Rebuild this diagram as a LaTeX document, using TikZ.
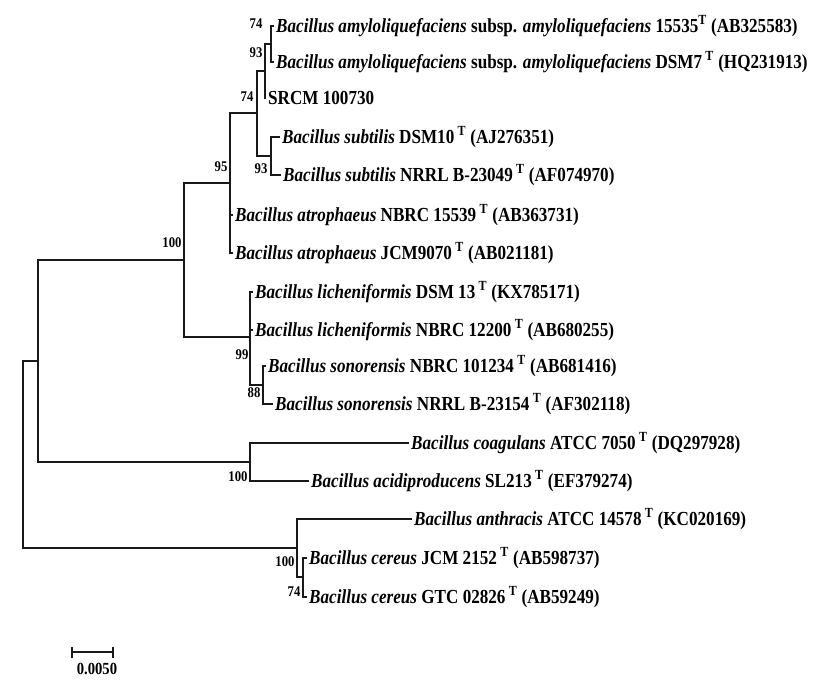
\documentclass[tikz,border=0pt]{standalone}
\usepackage{fontspec}
\setmainfont{Liberation Serif}[FakeStretch=0.86]
\usepackage{tikz}
\usetikzlibrary{positioning}
\definecolor{TreeInk}{RGB}{25,25,25}

\tikzset{
  branch/.style={draw=TreeInk, line width=1.2pt},
  thickbranch/.style={branch, line width=1.9pt},
  leaf/.style={anchor=west, inner xsep=2pt, inner ysep=0pt,
               text height=17pt, text depth=4pt,
               font=\fontsize{19.9}{22}\selectfont\bfseries},
  boot/.style={inner sep=0pt, font=\fontsize{14.8}{16}\selectfont\bfseries},
  scalelab/.style={inner sep=0pt, font=\fontsize{17}{19}\selectfont\bfseries}
}

\begin{document}
\begin{tikzpicture}[x=1pt, y=-1pt]
  \useasboundingbox (0,0) rectangle (827,685);

  % Internal nodes
  \coordinate (root) at (23,455);
  \coordinate (n9)  at (38,361);
  \coordinate (n6)  at (184,260);
  \coordinate (n5)  at (230,183);
  \coordinate (n3)  at (257,113);
  \coordinate (n2)  at (265,71);
  \coordinate (n1)  at (271,44);
  \coordinate (n4)  at (271,156);
  \coordinate (n7)  at (250,337);
  \coordinate (n8)  at (263,385);
  \coordinate (n10) at (250,462);
  \coordinate (n11) at (297,548);
  \coordinate (n12) at (303,577);

  % Inner branches
  \foreach \child/\parent/\br in {
    n9/root/branch, n11/root/thickbranch,
    n6/n9/branch, n10/n9/branch,
    n5/n6/thickbranch, n7/n6/thickbranch,
    n3/n5/branch, n2/n3/branch, n4/n3/branch, n1/n2/branch,
    n8/n7/branch, n12/n11/branch} {
    \draw[\br] (\parent) |- (\child);
  }

  % Taxa
  \foreach \name/\parent/\x/\y/\br/\txt in {
    am1/n1/274/26/branch/{\textit{Bacillus amyloliquefaciens} subsp. \textit{amyloliquefaciens} 15535\textsuperscript{T} (AB325583)},
    am2/n1/274/62/branch/{\textit{Bacillus amyloliquefaciens} subsp. \textit{amyloliquefaciens} DSM7\,\textsuperscript{T} (HQ231913)},
    srcm/n2/266/98/branch/{SRCM 100730},
    sub1/n4/280/137/branch/{\textit{Bacillus subtilis} DSM10\,\textsuperscript{T} (AJ276351)},
    sub2/n4/281/175/branch/{\textit{Bacillus subtilis} NRRL B-23049\,\textsuperscript{T} (AF074970)},
    atr1/n5/233/215/branch/{\textit{Bacillus atrophaeus} NBRC 15539\,\textsuperscript{T} (AB363731)},
    atr2/n5/233/253/branch/{\textit{Bacillus atrophaeus} JCM9070\,\textsuperscript{T} (AB021181)},
    lic1/n7/253/292/branch/{\textit{Bacillus licheniformis} DSM 13\,\textsuperscript{T} (KX785171)},
    lic2/n7/253/330/branch/{\textit{Bacillus licheniformis} NBRC 12200\,\textsuperscript{T} (AB680255)},
    son1/n8/266/366/branch/{\textit{Bacillus sonorensis} NBRC 101234\,\textsuperscript{T} (AB681416)},
    son2/n8/273/404/branch/{\textit{Bacillus sonorensis} NRRL B-23154\,\textsuperscript{T} (AF302118)},
    coa/n10/409/443/thickbranch/{\textit{Bacillus coagulans} ATCC 7050\,\textsuperscript{T} (DQ297928)},
    aci/n10/309/481/branch/{\textit{Bacillus acidiproducens} SL213\,\textsuperscript{T} (EF379274)},
    ant/n11/412/519/branch/{\textit{Bacillus anthracis} ATCC 14578\,\textsuperscript{T} (KC020169)},
    cer1/n12/307/558/branch/{\textit{Bacillus cereus} JCM 2152\,\textsuperscript{T} (AB598737)},
    cer2/n12/307/597/branch/{\textit{Bacillus cereus} GTC 02826\,\textsuperscript{T} (AB59249)}} {
    \node[leaf] (\name) at (\x,\y) {\txt};
    \draw[\br] (\parent) |- (\name.west);
  }

  % Bootstrap values
  \node[boot] (b1)  at (256,24)  {74};
  \node[boot] (b2)  at (256,53)  {93};
  \node[boot] (b3)  at (247,97)  {74};
  \node[boot] (b4)  at (261,169) {93};
  \node[boot] (b5)  at (221,167) {95};
  \node[boot] (b6)  at (172,243) {100};
  \node[boot] (b7)  at (242,355) {99};
  \node[boot] (b8)  at (254,393) {88};
  \node[boot] (b9)  at (238,477) {100};
  \node[boot] (b10) at (285,562) {100};
  \node[boot] (b11) at (294,592) {74};

  % Scale bar
  \coordinate (sbl) at (72,652);
  \coordinate (sbr) at (113,652);
  \draw[branch] (sbl) -- (sbr);
  \draw[branch] ([yshift=-5.5pt]sbl) -- ([yshift=5.5pt]sbl);
  \draw[branch] ([yshift=-5.5pt]sbr) -- ([yshift=5.5pt]sbr);
  \node[scalelab] (sblab) at (97,669) {0.0050};
\end{tikzpicture}
\end{document}
